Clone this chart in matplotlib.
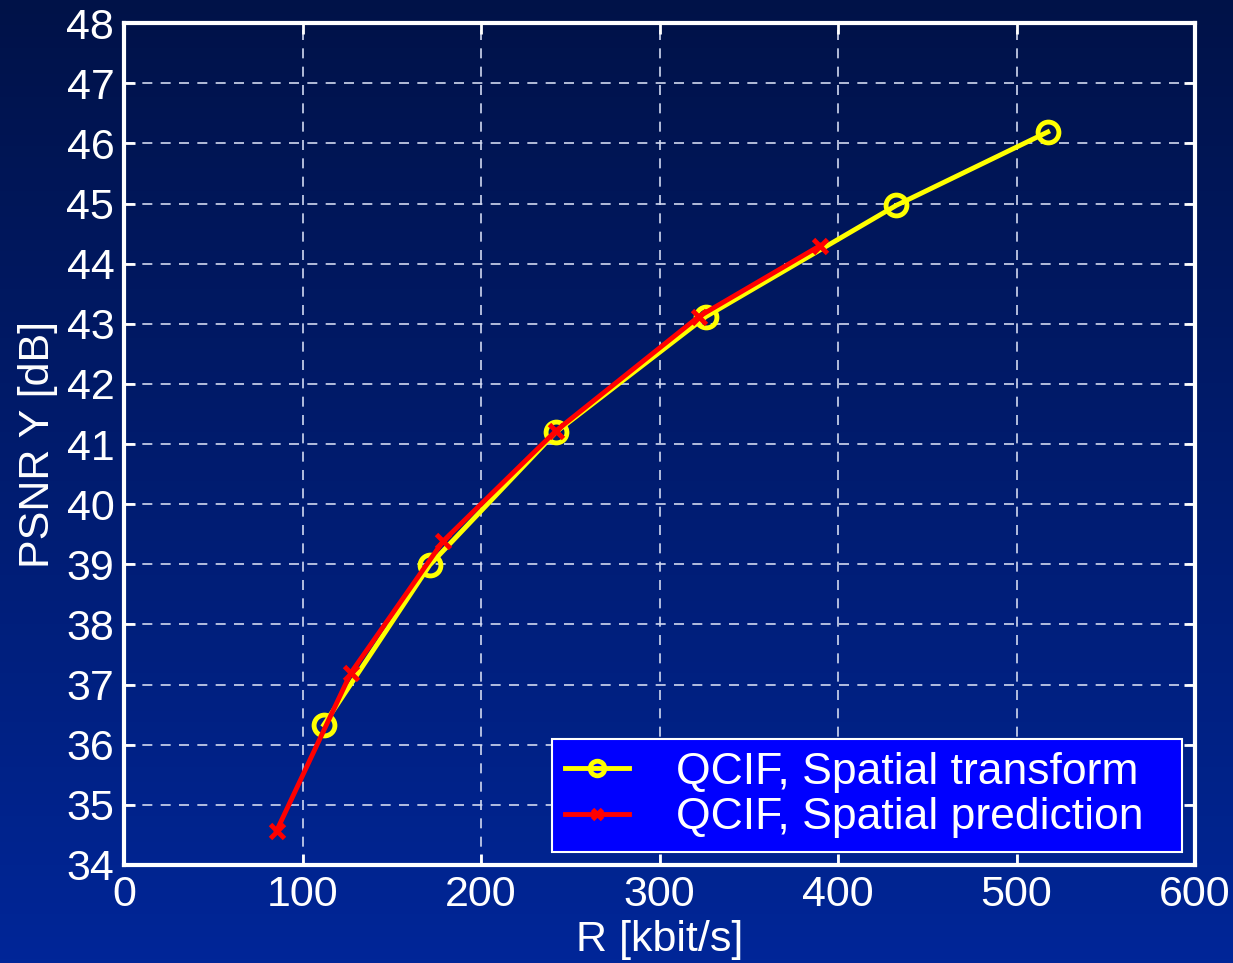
import numpy as np
import matplotlib.pyplot as plt

plt.rcParams['font.family'] = ['Liberation Sans', 'DejaVu Sans']

# QCIF, Spatial transform
rate_tr = [111.9, 171.3, 242.0, 326.0, 432.7, 517.5]
psnr_tr = [36.33, 38.99, 41.20, 43.12, 44.97, 46.19]

# QCIF, Spatial prediction
rate_pr = [85.5, 127.0, 178.6, 242.0, 322.0, 390.0]
psnr_pr = [34.57, 37.19, 39.38, 41.22, 43.12, 44.30]

fig = plt.figure(figsize=(12.33, 9.63), dpi=100)

# gradient background
bg = fig.add_axes([0, 0, 1, 1], zorder=-10)
grad = np.linspace(0, 1, 256)[:, None]
top = np.array([0x00, 0x12, 0x48]) / 255
bot = np.array([0x00, 0x26, 0x98]) / 255
img = top[None, None, :] * (1 - grad[:, :, None]) + bot[None, None, :] * grad[:, :, None]
bg.imshow(img, aspect='auto', extent=[0, 1, 0, 1])
bg.axis('off')

ax = fig.add_axes([0.1006, 0.1018, 0.8686, 0.8742])
ax.patch.set_alpha(0)

# trailing spaces give the wide right margin of the original legend box
ax.plot(rate_tr, psnr_tr, '-o', color='yellow', lw=3.5, ms=15, mfc='none', mew=3.5,
        label='QCIF, Spatial transform  ')
ax.plot(rate_pr, psnr_pr, '-x', color='red', lw=3.5, ms=10, mew=3.5,
        label='QCIF, Spatial prediction  ')

ax.set_xlim(0, 600)
ax.set_ylim(34, 48)
ax.set_xticks(range(0, 601, 100))
ax.set_yticks(range(34, 49))
ax.grid(True, color='#d0d8f0', linestyle=(0, (6, 5)), linewidth=1.2)
ax.tick_params(direction='in', length=8, width=2, colors='white', labelsize=31,
               top=True, right=True, pad=7)
for s in ax.spines.values():
    s.set_color('white')
    s.set_linewidth(3)

ax.set_xlabel('R [kbit/s]', color='white', fontsize=31, labelpad=4)
ax.set_ylabel('PSNR Y [dB]', color='white', fontsize=31, labelpad=6)

leg = ax.legend(loc='lower right', fontsize=32, facecolor='#0000ff', edgecolor='white',
                framealpha=1, fancybox=False, handlelength=1.45, borderaxespad=0.3,
                labelspacing=0.1, borderpad=0.3, handletextpad=1.05,
                markerscale=0.7)
for t in leg.get_texts():
    t.set_color('white')
leg.get_frame().set_linewidth(1.5)

fig.savefig('out.png', dpi=100)
